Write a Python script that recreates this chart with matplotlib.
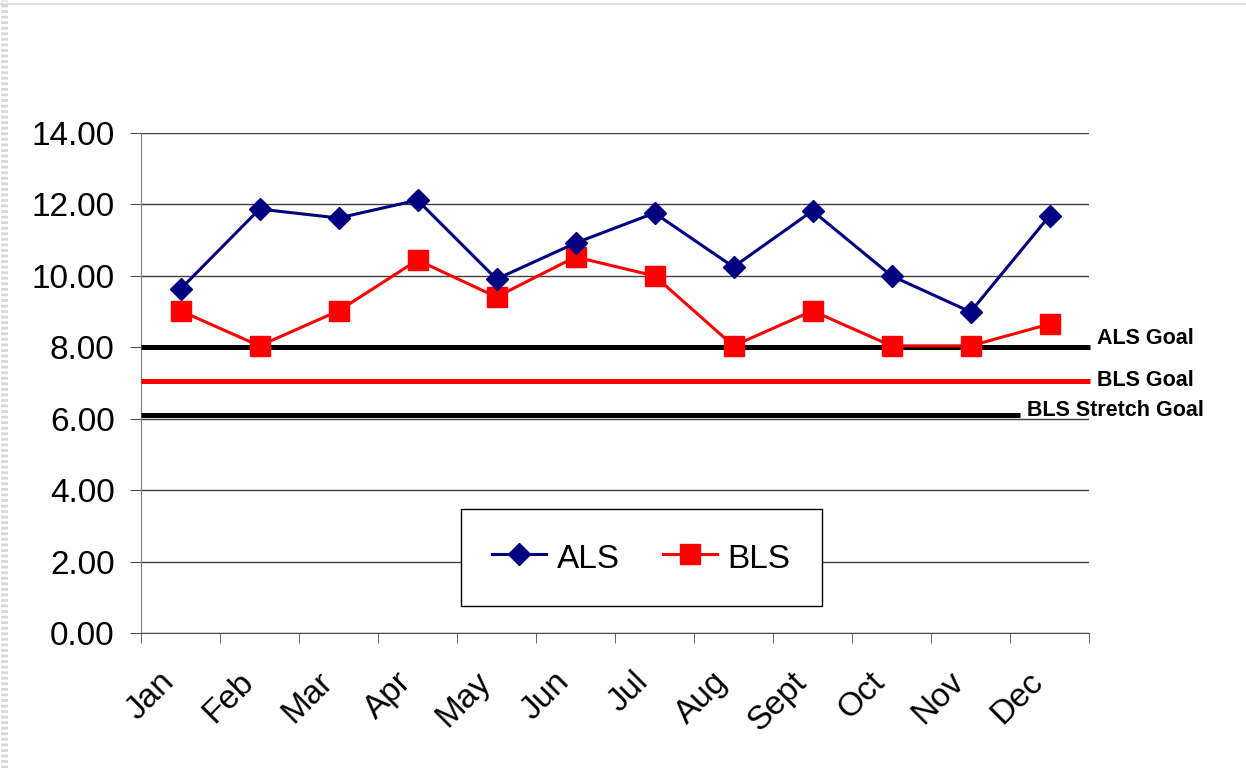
import matplotlib.pyplot as plt
from matplotlib.lines import Line2D

plt.rcParams['font.family'] = ['Liberation Sans', 'DejaVu Sans']

months = ['Jan', 'Feb', 'Mar', 'Apr', 'May', 'Jun',
          'Jul', 'Aug', 'Sept', 'Oct', 'Nov', 'Dec']
als = [9.63, 11.87, 11.62, 12.12, 9.91, 10.92, 11.76, 10.25, 11.82, 10.00, 8.99, 11.68]
bls = [9.02, 8.04, 9.02, 10.44, 9.41, 10.53, 10.00, 8.04, 9.02, 8.04, 8.04, 8.65]

goal_names = ['ALS Goal', 'BLS Goal', 'BLS Stretch Goal']
goal_values = [8.0, 7.05, 6.11]

W, H = 1246, 768
fig = plt.figure(figsize=(W / 100, H / 100), dpi=100)
ax = fig.add_axes([141 / W, 1 - 633 / H, 948 / W, 500 / H])

x = list(range(len(months)))
ax.plot(x, als, color='#000080', lw=2.2, marker='D', markersize=11.5,
        label='ALS', zorder=5)
ax.plot(x, bls, color='#FF0000', lw=2.2, marker='s', markersize=14,
        label='BLS', zorder=4)

# goal lines, drawn across the plot in axes-x / data-y coords
trans = ax.get_yaxis_transform()
goal_colors = ['black', '#FF0000', 'black']
goal_ends = [1.001, 1.001, 0.927]
label_pos = [(1.0084, 8.26), (1.0084, 7.06), (0.9346, 6.22)]
for name, val, c, end, (lx, ly) in zip(goal_names, goal_values, goal_colors,
                                      goal_ends, label_pos):
    ax.plot([0, end], [val, val], color=c, lw=3.6, transform=trans,
            clip_on=False, zorder=3, solid_capstyle='butt')
    ax.text(lx, ly, name, transform=trans, fontsize=15.5, fontweight='bold',
            ha='left', va='center')

ax.set_xlim(-0.5, 11.5)
ax.set_ylim(0, 14)
ax.set_yticks(range(0, 15, 2))
ax.set_yticklabels(['%.2f' % v for v in range(0, 15, 2)], fontsize=24)
ax.set_xticks(x)
ax.set_xticklabels(months, fontsize=24, rotation=45, ha='right', va='top')
ax.set_xticks([i - 0.5 for i in range(13)], minor=True)
ax.tick_params(axis='x', which='major', length=0, pad=24)
ax.tick_params(axis='x', which='minor', length=7, color='#505050')
ax.tick_params(axis='y', length=8, pad=11, color='#505050')

ax.grid(axis='y', color='#404040', lw=1)
ax.set_axisbelow(True)
for s in ['top', 'right']:
    ax.spines[s].set_visible(False)
ax.spines['left'].set_color('#808080')
ax.spines['bottom'].set_color('#505050')

leg = ax.legend(loc='center', bbox_to_anchor=(0.3376, 0.05, 0.3808, 0.202),
                mode='expand', borderaxespad=0, ncol=2,
                fontsize=24, frameon=True, fancybox=False, framealpha=1,
                edgecolor='black', borderpad=0.94, handlelength=1.6,
                handleheight=1.18, handletextpad=0.33, columnspacing=1.4)
leg.get_frame().set_linewidth(1)

# page decorations: light top rule and dotted left strip
fig.add_artist(Line2D([0, 1], [1 - 4 / H, 1 - 4 / H], transform=fig.transFigure,
                      color='#e0e0e0', lw=1.5))
fig.add_artist(Line2D([4 / W, 4 / W], [0, 1], transform=fig.transFigure,
                      color='#d8d8d8', lw=5, linestyle=(0, (0.4, 0.4))))

fig.savefig('out.png', dpi=100)
